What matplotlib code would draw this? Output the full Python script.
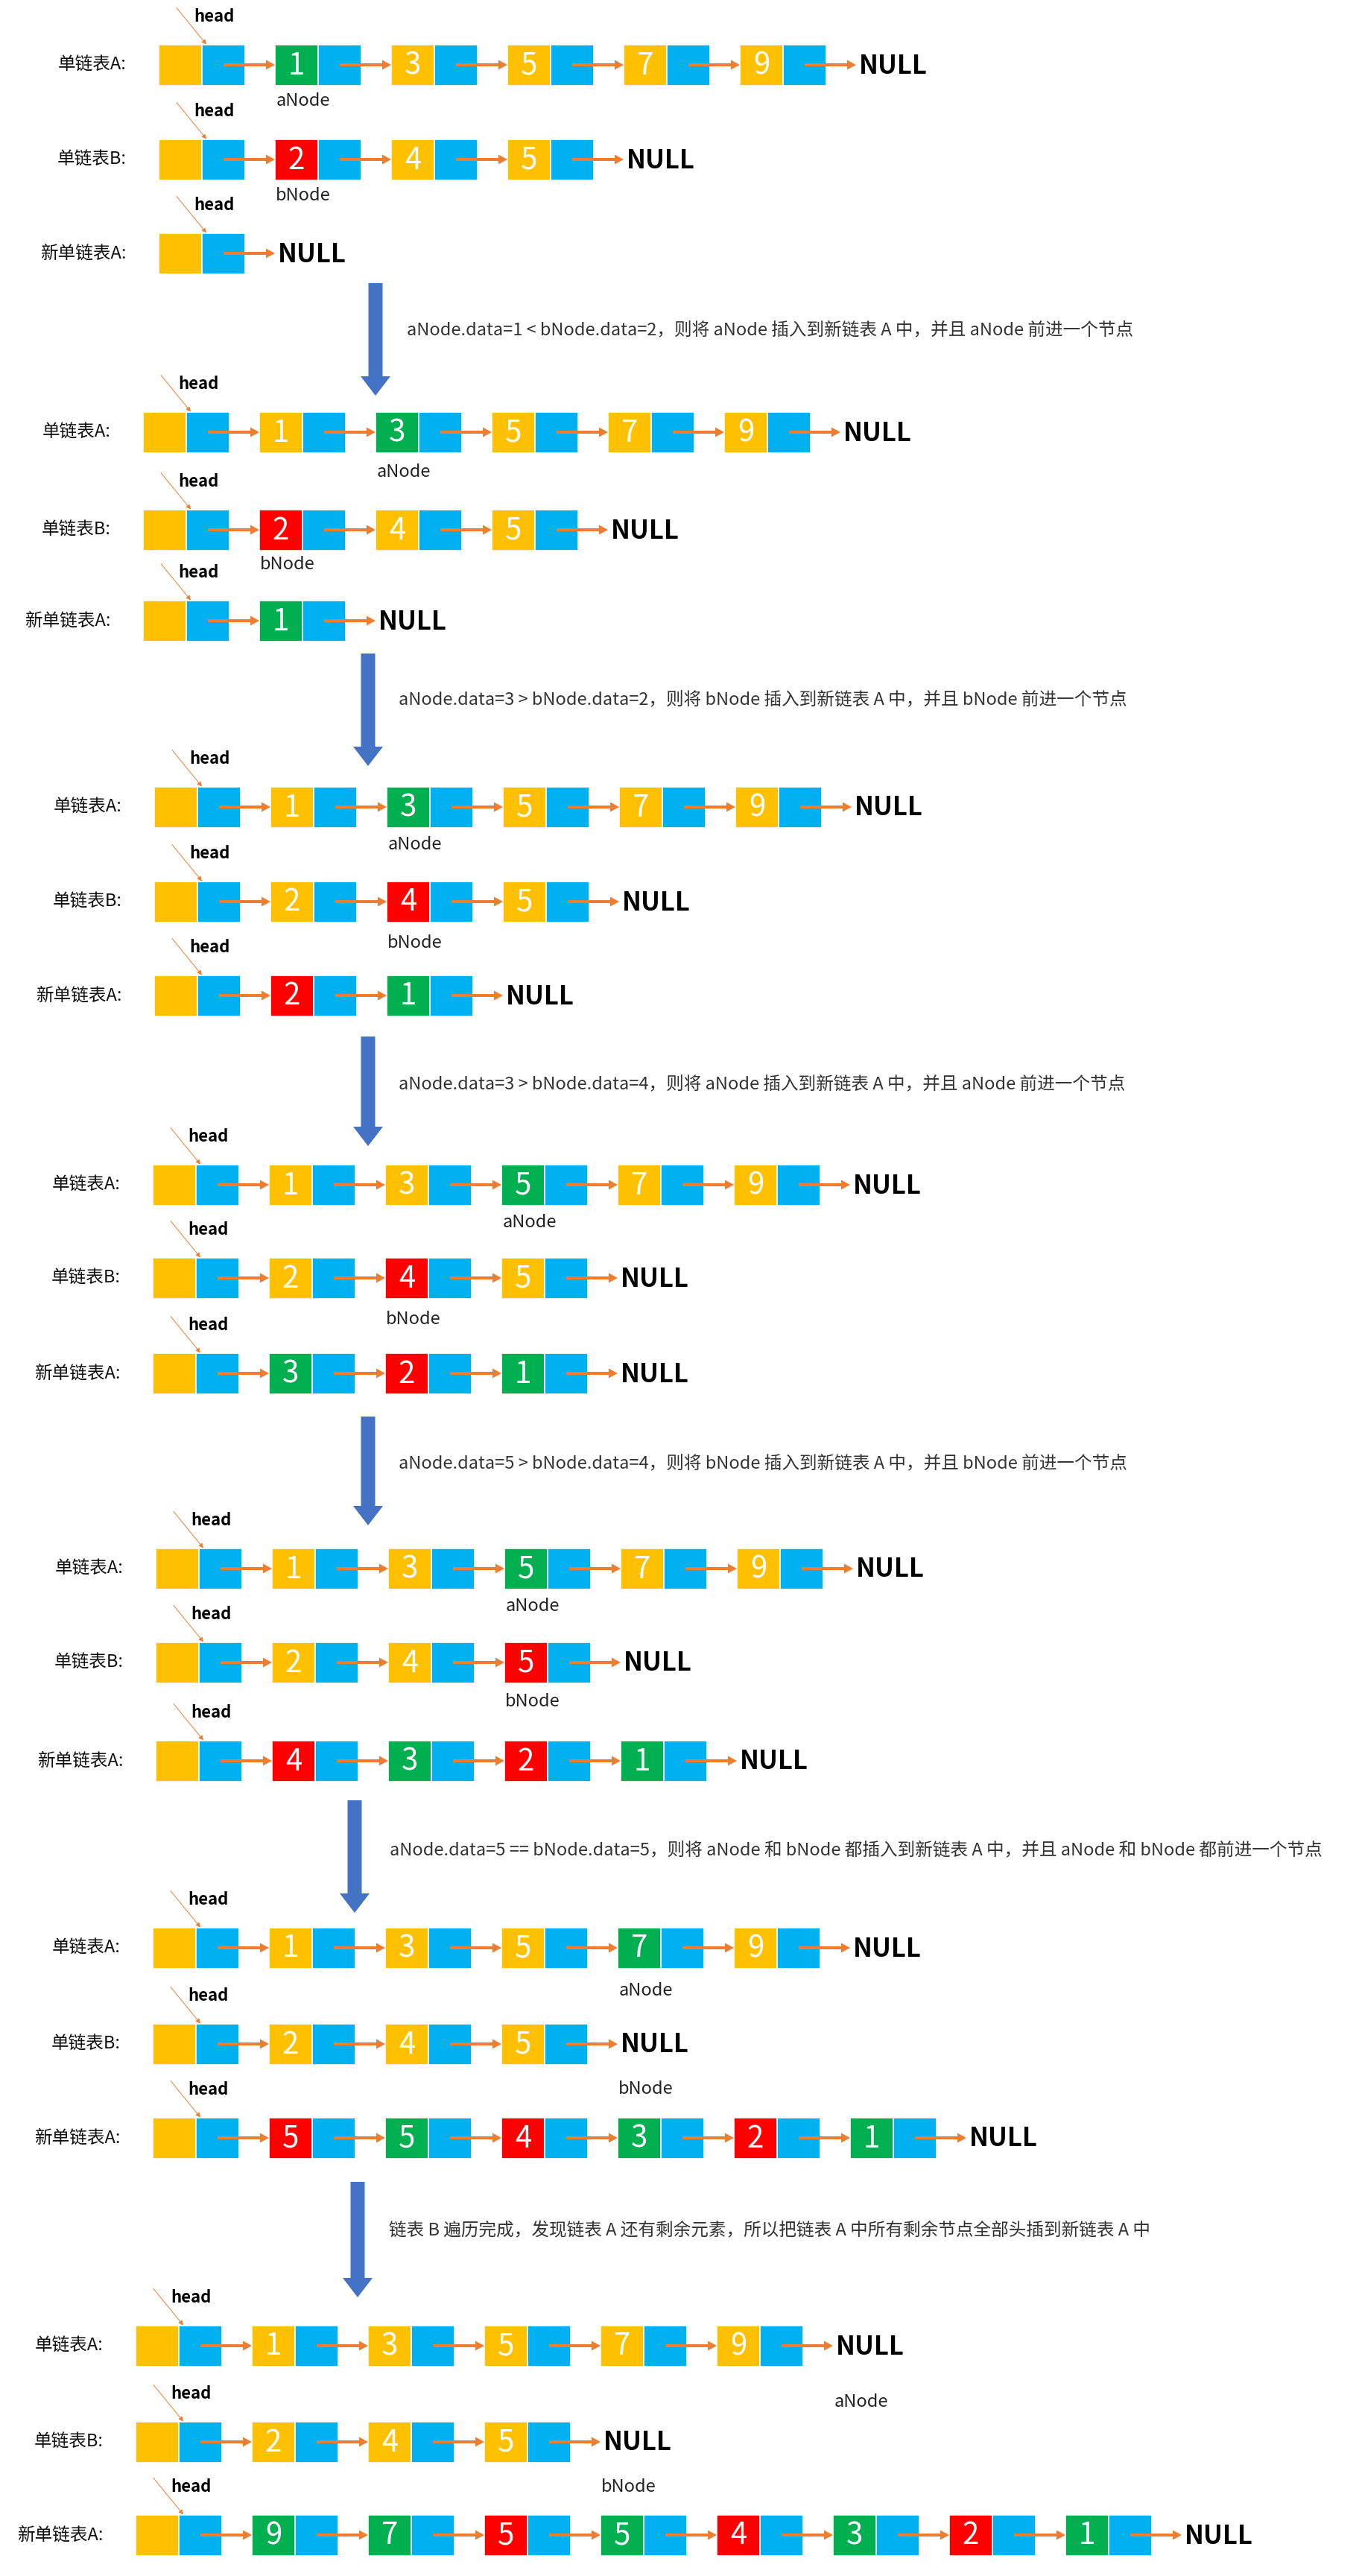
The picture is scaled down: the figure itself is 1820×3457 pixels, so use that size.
import matplotlib
matplotlib.use('Agg')
import matplotlib.pyplot as plt
from matplotlib.patches import Rectangle, FancyArrow

plt.rcParams['font.family'] = ['Noto Sans CJK SC', 'DejaVu Sans']

# data
list_a = [1, 3, 5, 7, 9]
list_b = [2, 4, 5]
row_labels = ['单链表A:', '单链表B:', '新单链表A:']

# position of aNode / bNode in each step
a_pos = [0, 1, 1, 2, 2, 3, 5]
b_pos = [0, 0, 1, 1, 2, 3, 3]

# new list after each step, and where each node came from (a or b)
new_vals = [[], [1], [2, 1], [3, 2, 1], [4, 3, 2, 1],
            [5, 5, 4, 3, 2, 1], [9, 7, 5, 5, 4, 3, 2, 1]]
new_src = [[], ['a'], ['b', 'a'], ['a', 'b', 'a'], ['b', 'a', 'b', 'a'],
           ['b', 'a', 'b', 'a', 'b', 'a'], ['a', 'a', 'b', 'a', 'b', 'a', 'b', 'a']]

captions = [
    'aNode.data=1 < bNode.data=2，则将 aNode 插入到新链表 A 中，并且 aNode 前进一个节点',
    'aNode.data=3 > bNode.data=2，则将 bNode 插入到新链表 A 中，并且 bNode 前进一个节点',
    'aNode.data=3 > bNode.data=4，则将 aNode 插入到新链表 A 中，并且 aNode 前进一个节点',
    'aNode.data=5 > bNode.data=4，则将 bNode 插入到新链表 A 中，并且 bNode 前进一个节点',
    'aNode.data=5 == bNode.data=5，则将 aNode 和 bNode 都插入到新链表 A 中，并且 aNode 和 bNode 都前进一个节点',
    '链表 B 遍历完成，发现链表 A 还有剩余元素，所以把链表 A 中所有剩余节点全部头插到新链表 A 中',
]

# layout (pixels): head x, row y for A / B / new, label offsets for aNode / bNode
blocks = [
    (213, 87, 214, 340, 48, 48),
    (192, 580, 711, 833, 53, 46),
    (207, 1083, 1210, 1336, 50, 55),
    (205, 1590, 1715, 1843, 50, 55),
    (209, 2105, 2231, 2363, 51, 53),
    (205, 2614, 2743, 2869, 58, 61),
    (182, 3148, 3277, 3402, 75, 61),
]
down_arrows = [(504, 380, 531), (494, 877, 1028), (494, 1391, 1538),
               (494, 1901, 2047), (476, 2416, 2567), (480, 2928, 3083)]
caption_pos = [(546, 443), (535, 939), (535, 1455), (535, 1964), (523, 2483), (522, 2994)]

YELLOW = '#FFC000'
BLUE = '#00B0F0'
GREEN = '#00B050'
RED = '#FF0000'
ORANGE = '#ED7D31'
ARROW_BLUE = '#4472C4'

HALF = 58
NODE_H = 55
STEP = 156

W, H = 1820, 3457
fig = plt.figure(figsize=(W / 100, H / 100), dpi=100)
ax = fig.add_axes([0, 0, 1, 1])
ax.set_xlim(0, W)
ax.set_ylim(H, 0)
ax.axis('off')


def draw_node(x, yc, val, color):
    ax.add_patch(Rectangle((x, yc - NODE_H / 2), HALF, NODE_H, fc=color, ec='white', lw=1.2, zorder=2))
    ax.add_patch(Rectangle((x + HALF, yc - NODE_H / 2), HALF, NODE_H, fc=BLUE, ec='white', lw=1.2, zorder=2))
    if val is not None:
        ax.text(x + HALF / 2, yc + 1, str(val), color='white', fontsize=29, fontweight='light',
                ha='center', va='center', zorder=3)


def link(x, yc):
    # arrow from middle of the blue half to the next node
    x0 = x + HALF * 1.5
    ax.add_patch(FancyArrow(x0, yc, x + STEP - x0, 0, width=4, head_width=13, head_length=12,
                            length_includes_head=True, color=ORANGE, lw=0, zorder=4))


def draw_list(hx, yc, vals, colors, label):
    top = yc - NODE_H / 2
    ax.text(hx - 43, yc, label, fontsize=17, ha='right', va='center', color='#111111')
    ax.annotate('', xy=(hx + 64, top), xytext=(hx + 24, top - 49),
                arrowprops=dict(arrowstyle='-|>', color=ORANGE, lw=0.7, mutation_scale=9,
                                shrinkA=0, shrinkB=0))
    ax.text(hx + 47, top - 37, 'head', fontsize=16, fontweight='bold', ha='left', va='center')
    draw_node(hx, yc, None, YELLOW)
    x = hx
    for v, c in zip(vals, colors):
        link(x, yc)
        x += STEP
        draw_node(x, yc, v, c)
    link(x, yc)
    ax.text(x + STEP + 4, yc + 1, 'NULL', fontsize=25, fontweight='bold', ha='left', va='center')


for i, (hx, ya, yb, yn, da, db) in enumerate(blocks):
    ca = [GREEN if k == a_pos[i] else YELLOW for k in range(len(list_a))]
    cb = [RED if k == b_pos[i] else YELLOW for k in range(len(list_b))]
    cn = [GREEN if s == 'a' else RED for s in new_src[i]]
    draw_list(hx, ya, list_a, ca, row_labels[0])
    draw_list(hx, yb, list_b, cb, row_labels[1])
    draw_list(hx, yn, new_vals[i], cn, row_labels[2])
    ax.text(hx + STEP * (a_pos[i] + 1) + 38, ya + da, 'aNode', fontsize=17,
            ha='center', va='center', color='#222222')
    ax.text(hx + STEP * (b_pos[i] + 1) + 38, yb + db, 'bNode', fontsize=17,
            ha='center', va='center', color='#222222')

for (x, y0, y1), txt, (tx, ty) in zip(down_arrows, captions, caption_pos):
    ax.add_patch(FancyArrow(x, y0, 0, y1 - y0, width=19, head_width=40, head_length=26,
                            length_includes_head=True, color=ARROW_BLUE, lw=0))
    ax.text(tx, ty, txt, fontsize=17, ha='left', va='center', color='#333333')

fig.savefig('out.png', dpi=100, facecolor='white')
